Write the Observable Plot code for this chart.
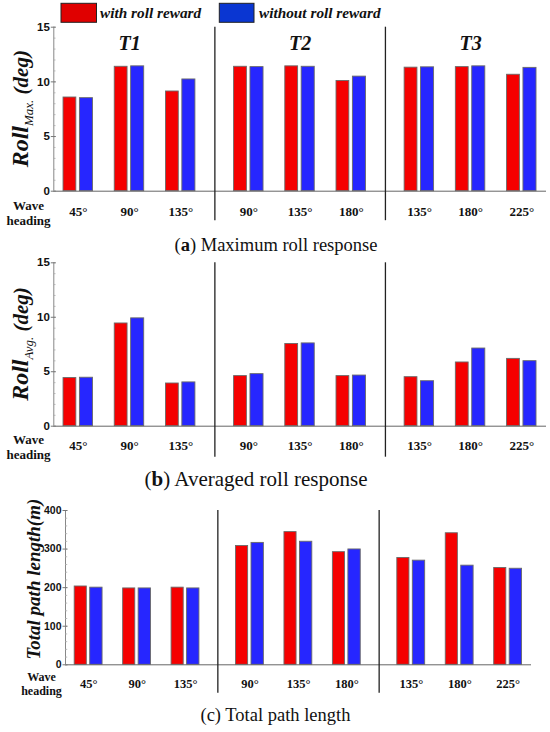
<!DOCTYPE html>
<html>
<head>
<meta charset="utf-8">
<script src="https://cdn.jsdelivr.net/npm/d3@7"></script>
<script src="https://cdn.jsdelivr.net/npm/@observablehq/plot@0.6"></script>
<style>
  html, body { margin: 0; padding: 0; background: #fff; }
  body { width: 550px; height: 732px; position: relative; overflow: hidden; }
  .abs { position: absolute; left: 0; }
  .cap { position: absolute; font-family: "Liberation Serif", serif; white-space: nowrap; line-height: 20px; color: #111; }
</style>
</head>
<body>
<div id="legend" class="abs" style="top:0"></div>
<div id="pa" class="abs" style="top:22px"></div>
<div class="cap" id="capA" style="top:235px; font-size:18.5px;">(<b>a</b>) Maximum roll response</div>
<div id="pb" class="abs" style="top:253px"></div>
<div class="cap" id="capB" style="top:469px; font-size:21px;">(<b>b</b>) Averaged roll response</div>
<div id="pc" class="abs" style="top:500px"></div>
<div class="cap" id="capC" style="top:705px; font-size:18.5px;">(c) Total path length</div>
<script>
// ---------------- data ----------------
const groups = ["T1", "T2", "T3"];
const headings = ["45°", "90°", "135°", "90°", "135°", "180°", "135°", "180°", "225°"];
const groupOf = [0, 0, 0, 1, 1, 1, 2, 2, 2];
const seriesNames = ["with roll reward", "without roll reward"];

const rollMaxWith    = [8.57, 11.38, 9.12, 11.38, 11.42, 10.08, 11.30, 11.35, 10.65];
const rollMaxWithout = [8.51, 11.42, 10.22, 11.35, 11.38, 10.48, 11.33, 11.42, 11.28];

const rollAvgWith    = [4.42, 9.43, 3.92, 4.60, 7.55, 4.60, 4.50, 5.85, 6.18];
const rollAvgWithout = [4.45, 9.90, 4.02, 4.78, 7.60, 4.65, 4.13, 7.13, 5.97];

const pathWith    = [203, 198, 200, 308, 344, 292, 277, 341, 251];
const pathWithout = [200, 198, 198, 316, 319, 299, 270, 257, 249];

const rollTicks = [0, 5, 10, 15];
const pathTicks = [0, 100, 200, 300, 400];

// ---------------- styling ----------------
const barColors = ["#f50000", "#2626ff"];
const legendColors = ["#e00000", "#0a36d2"];
const SERIF = "Liberation Serif, Times New Roman, serif";
const SANS = "Liberation Sans, Arial, sans-serif";
const GAP = 0.33;      // extra spacing between test groups
const PAD = 0.48;      // domain padding at both ends
const pos = i => i + groupOf[i] * GAP;
const dividers = [1, 2].map(g => {
  const last = groupOf.lastIndexOf(g - 1), first = groupOf.indexOf(g);
  return (pos(last) + pos(first)) / 2;
});
const barOffsets = [[-0.29, -0.04], [0.03, 0.285]];

function panel(cfg) {
  const rows = [];
  headings.forEach((h, i) => {
    rows.push({i, series: seriesNames[0], value: cfg.withVals[i], s: 0});
    rows.push({i, series: seriesNames[1], value: cfg.withoutVals[i], s: 1});
  });
  const width = 550;
  const fw = width - cfg.marginLeft - cfg.marginRight;
  const xDomain = [-PAD, pos(headings.length - 1) + PAD];
  const yMax = cfg.ticks[cfg.ticks.length - 1];
  const minor = d3.range(0, yMax + 1e-9, cfg.minorStep);
  const marks = [
    Plot.rect(rows, {
      x1: d => pos(d.i) + barOffsets[d.s][0],
      x2: d => pos(d.i) + barOffsets[d.s][1],
      y1: 0, y2: "value", fill: "series", stroke: "#6a6a6a", strokeWidth: 0.9
    }),
    Plot.ruleY([0], {stroke: "#666", strokeWidth: 1}),
    Plot.ruleX([xDomain[0]], {stroke: "#888", strokeWidth: 1}),
    Plot.tickY(minor, {y: d => d, stroke: "#aaa", strokeWidth: 0.8, insetRight: fw - 2.2}),
    Plot.tickY(cfg.ticks, {y: d => d, stroke: "#777", strokeWidth: 1, insetLeft: -2.5, insetRight: fw - 2.5}),
    Plot.text(cfg.ticks, {y: d => d, text: d => String(d), frameAnchor: "left", textAnchor: "end", lineAnchor: "middle", dx: -4,
      fontFamily: SANS, fontWeight: "bold", fontSize: cfg.tickFont, fill: "#111"}),
    Plot.ruleX(dividers, {x: d => d, stroke: "#222", strokeWidth: 1.3, insetBottom: -cfg.divExt}),
    Plot.text(headings, {x: (d, i) => pos(i), text: d => d, frameAnchor: "bottom", lineAnchor: "middle", dy: cfg.labelDy,
      fontFamily: SERIF, fontWeight: "bold", fontSize: cfg.headFont, fill: "#111"}),
    Plot.text(["Wave\nheading"], {text: d => d, frameAnchor: "bottom-left", lineAnchor: "middle", dx: cfg.waveDx, dy: cfg.waveDy,
      lineHeight: cfg.waveLH, textAnchor: "middle", fontFamily: SERIF, fontWeight: "bold", fontSize: cfg.waveFont, fill: "#111"})
  ];
  if (cfg.showGroups) {
    marks.push(Plot.text(groups, {x: (d, g) => pos(groupOf.indexOf(g) + 1), text: d => d, frameAnchor: "top", lineAnchor: "middle", dy: 16.5,
      fontFamily: SERIF, fontStyle: "italic", fontWeight: "bold", fontSize: 20, fill: "#111"}));
  }
  const chart = Plot.plot({
    width, height: cfg.height,
    marginLeft: cfg.marginLeft, marginRight: cfg.marginRight,
    marginTop: cfg.marginTop, marginBottom: cfg.marginBottom,
    x: {domain: xDomain, axis: null},
    y: {domain: [0, yMax], axis: null},
    color: {domain: seriesNames, range: barColors},
    style: {background: "transparent", overflow: "visible"},
    marks
  });
  // rotated y-axis title with mixed styles
  const cy = (cfg.marginTop + cfg.height - cfg.marginBottom) / 2 + (cfg.titleShift || 0);
  const t = d3.select(chart).append("text")
    .attr("transform", `translate(${cfg.titleX},${cy}) rotate(-90)`)
    .attr("text-anchor", "middle")
    .attr("font-family", SERIF)
    .attr("font-style", "italic")
    .attr("font-weight", "bold")
    .attr("fill", "#111");
  cfg.title.forEach(p => {
    const ts = t.append("tspan").text(p.text).attr("font-size", p.size);
    if (p.dy) ts.attr("dy", p.dy);
    if (p.weight) ts.attr("font-weight", p.weight);
  });
  return chart;
}

document.getElementById("pa").appendChild(panel({
  withVals: rollMaxWith, withoutVals: rollMaxWithout, ticks: rollTicks, minorStep: 1,
  height: 203, marginTop: 4.7, marginBottom: 34.3, marginLeft: 53.3, marginRight: 4,
  showGroups: true, tickFont: 11.5, headFont: 13, labelDy: 21, divExt: 29.5,
  waveDx: -25.3, waveDy: 21.3, waveLH: 1.19, waveFont: 13, titleX: 28,
  title: [{text: "Roll", size: 24}, {text: "Max.", size: 13, dy: 5, weight: "normal"}, {text: " (deg)", size: 21, dy: -5}]
}));

document.getElementById("pb").appendChild(panel({
  withVals: rollAvgWith, withoutVals: rollAvgWithout, ticks: rollTicks, minorStep: 1,
  height: 210, marginTop: 9.3, marginBottom: 37.3, marginLeft: 53.3, marginRight: 4,
  showGroups: false, tickFont: 11.5, headFont: 13, labelDy: 20, divExt: 31,
  waveDx: -25.3, waveDy: 20.5, waveLH: 1.19, waveFont: 13, titleX: 28,
  title: [{text: "Roll", size: 24}, {text: "Avg.", size: 13, dy: 5, weight: "normal"}, {text: " (deg)", size: 21, dy: -5}]
}));

document.getElementById("pc").appendChild(panel({
  withVals: pathWith, withoutVals: pathWithout, ticks: pathTicks, minorStep: 20,
  height: 200, marginTop: 10, marginBottom: 35.7, marginLeft: 65, marginRight: 19,
  showGroups: false, tickFont: 10.5, headFont: 12.5, labelDy: 19, divExt: 28.4,
  waveDx: -24, waveDy: 19, waveLH: 1.1, waveFont: 12, titleX: 40, titleShift: -8,
  title: [{text: "Total path length(m)", size: 19}]
}));

// ---------------- legend ----------------
const leg = d3.select("#legend").append("svg").attr("width", 550).attr("height", 24);
const legItems = [{x: 61, w: 35.5, tx: 100}, {x: 219.3, w: 34.7, tx: 259}];
seriesNames.forEach((name, k) => {
  leg.append("rect").attr("x", legItems[k].x).attr("y", 3.3).attr("width", legItems[k].w).attr("height", 19)
    .attr("fill", legendColors[k]).attr("stroke", "#222").attr("stroke-width", 1);
  leg.append("text").attr("x", legItems[k].tx).attr("y", 18)
    .attr("font-family", SERIF).attr("font-style", "italic").attr("font-weight", "bold")
    .attr("font-size", 15.3).attr("fill", "#111").text(name);
});

// ---------------- caption centering ----------------
[["capA", 276], ["capB", 256], ["capC", 275.5]].forEach(([id, cx]) => {
  const el = document.getElementById(id);
  el.style.left = (cx - el.offsetWidth / 2) + "px";
});
</script>
</body>
</html>
